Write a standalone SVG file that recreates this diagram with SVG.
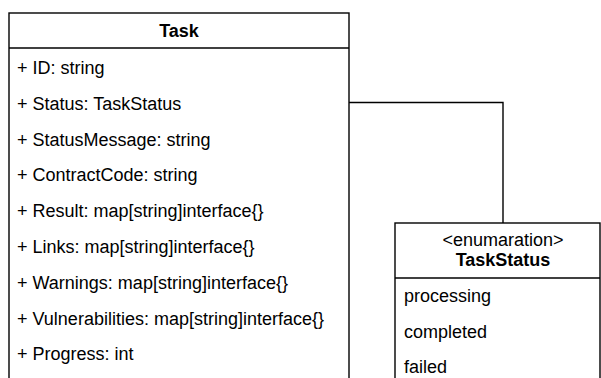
<svg xmlns="http://www.w3.org/2000/svg" width="601" height="378" viewBox="0 0 601 378">
<style>
.box{fill:#fff;stroke:#000;stroke-width:1.4}
.div{stroke:#000;stroke-width:1.4;fill:none}
.conn{stroke:#000;stroke-width:1.4;fill:none}
text{font-family:"Liberation Sans",Arial,Helvetica,sans-serif;font-size:18px;fill:#000}
.title{font-weight:bold;text-anchor:middle}
.mid{text-anchor:middle}
</style>
<rect width="601" height="378" fill="#fff"/>
<g id="connectors">
<polyline class="conn" points="349,102.5 503,102.5 503,223"/>
</g>
<g id="Task">
<rect class="box" x="9" y="13" width="340" height="380"/>
<line class="div" x1="9" y1="48" x2="349" y2="48"/>
<text class="title" x="179" y="36.7">Task</text>
<text x="17" y="74">+ ID: string</text>
<text x="17" y="109.8">+ Status: TaskStatus</text>
<text x="17" y="145.6">+ StatusMessage: string</text>
<text x="17" y="181.4">+ ContractCode: string</text>
<text x="17" y="217.2">+ Result: map[string]interface{}</text>
<text x="17" y="253">+ Links: map[string]interface{}</text>
<text x="17" y="288.8">+ Warnings: map[string]interface{}</text>
<text x="17" y="324.6">+ Vulnerabilities: map[string]interface{}</text>
<text x="17" y="360.4">+ Progress: int</text>
</g>
<g id="TaskStatus">
<rect class="box" x="395" y="223" width="205" height="170"/>
<line class="div" x1="395" y1="278" x2="600" y2="278"/>
<text class="mid" x="503" y="245.5">&lt;enumaration&gt;</text>
<text class="title" x="503" y="265.7">TaskStatus</text>
<text x="404" y="301.7">processing</text>
<text x="404" y="338">completed</text>
<text x="404" y="372.7">failed</text>
</g>
</svg>
